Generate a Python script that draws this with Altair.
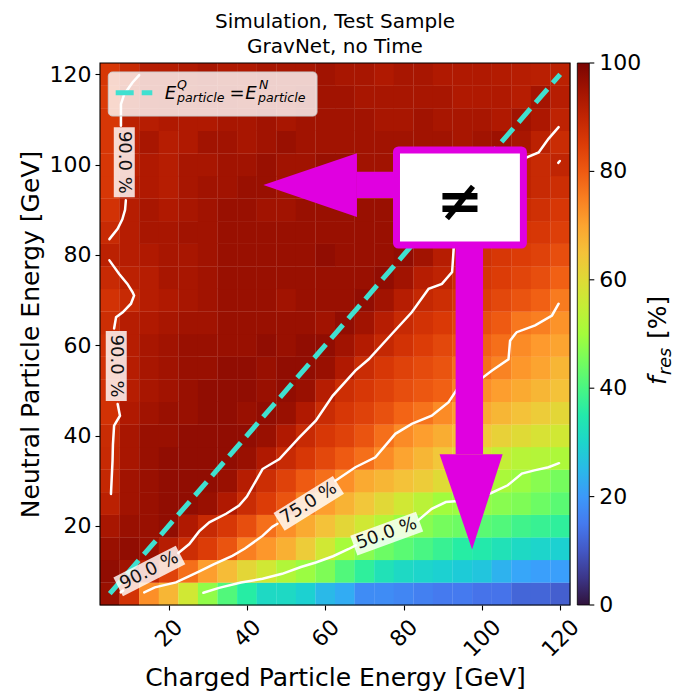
import altair as alt
import pandas as pd

# ---------------- data ----------------
charged_energy = [5, 10, 15, 20, 25, 30, 35, 40, 45, 50, 55, 60,
                  65, 70, 75, 80, 85, 90, 95, 100, 105, 110, 115, 120]
neutral_energy = [5, 10, 15, 20, 25, 30, 35, 40, 45, 50, 55, 60,
                  65, 70, 75, 80, 85, 90, 95, 100, 105, 110, 115, 120]

# f_res [%] per neutral-energy row (columns follow charged_energy)
fres_n005 = [96, 87, 73, 67, 57, 48, 41, 36, 31, 31, 29, 25, 23, 18, 18, 17, 16, 15, 15, 14, 14, 12, 12, 11]
fres_n010 = [97, 95, 90, 84, 77, 71, 66, 61, 57, 52, 49, 46, 41, 37, 33, 31, 30, 29, 28, 27, 24, 22, 21, 21]
fres_n015 = [96, 97, 96, 92, 88, 85, 81, 75, 72, 68, 63, 57, 50.5, 47, 44, 42, 40, 38, 36, 35, 33, 31, 30, 29]
fres_n020 = [94, 96, 96, 97, 93, 89, 86, 82, 77, 73, 69, 65, 61, 57, 53, 49, 47, 45, 44, 42, 41, 39, 38, 37]
fres_n025 = [91, 95, 96, 97, 97, 96, 93, 88.5, 85, 81, 75, 71, 67.5, 64, 60.5, 57, 53.5, 49.7, 49, 48, 47, 46, 44, 42]
fres_n030 = [89.5, 95, 96, 97, 97, 97, 96, 92, 88, 84, 80, 77, 73, 69, 67, 65, 63, 60, 57, 54, 51, 49, 47, 45]
fres_n035 = [89, 94, 96, 97, 97, 97, 97, 96, 93, 89, 86, 83, 80, 77, 73.5, 70, 67, 64, 61, 58, 55, 53, 52.5, 51.5]
fres_n040 = [88.5, 94, 96, 96, 97, 97, 97, 97, 96, 93, 89, 86, 84, 81, 77, 73.5, 71, 68.5, 66, 64, 62, 60, 58.5, 57]
fres_n045 = [87, 93, 95, 96, 96, 97, 97, 96, 97, 96, 93, 88.5, 86, 84, 81.5, 78.5, 76.5, 73.5, 71, 69, 67, 65, 63, 61]
fres_n050 = [87, 92, 94, 95, 96, 97, 97, 97, 96, 97, 96, 92, 88, 86, 84, 82, 80.5, 79, 74.5, 73, 71, 69, 67, 65]
fres_n055 = [87, 92, 94, 95, 96, 96, 97, 97, 96, 97, 97, 96, 93, 88.5, 86, 84, 82.5, 81, 77, 77, 74.5, 72, 70, 67]
fres_n060 = [87, 92, 94, 95, 96, 96, 96, 96, 97, 96, 97, 97, 95, 92.5, 89.5, 87, 85, 83, 81, 79, 77, 73.5, 71.5, 70]
fres_n065 = [88, 92, 93, 94, 95, 95, 96, 96, 96, 96, 96, 95, 97, 95, 92, 89, 87, 85.5, 83.5, 82, 80, 76, 75, 72.5]
fres_n070 = [87, 89, 92, 93, 94, 95, 96, 96, 96, 95, 96, 96, 96, 97, 95, 92, 89.5, 88, 86, 85, 83, 81, 79, 75.5]
fres_n075 = [89, 91, 92, 94, 94, 95, 96, 96, 96, 96, 96, 96, 96, 96, 97, 95, 92, 90.5, 88, 86.5, 85, 83.5, 82, 79]
fres_n080 = [91, 92, 93, 94, 94, 95, 96, 96, 96, 96, 96, 97, 96, 96, 96, 97, 95, 92, 88.5, 87.5, 86, 85, 84, 82]
fres_n085 = [89, 92, 94, 94, 95, 95, 96, 96, 96, 96, 96, 96, 96, 96, 96, 96, 96, 94.5, 92, 89.5, 88, 86.5, 86, 84.5]
fres_n090 = [87, 92, 94, 93, 94, 95, 96, 96, 95, 95, 96, 96, 96, 96, 96, 96, 96, 96, 95, 93, 90.5, 88.5, 87.5, 86]
fres_n095 = [86, 92, 93, 92, 94, 95, 95, 96, 96, 95, 95, 95, 96, 96, 95, 95, 96, 96, 96, 95, 93, 90.5, 89, 88]
fres_n100 = [86, 91, 93, 92, 94, 94, 95, 95, 96, 95, 95, 96, 96, 95, 95, 95, 96, 95, 96, 95.5, 94, 90.5, 89, 90.2]
fres_n105 = [86, 91, 94, 92, 93, 95, 95, 94, 95, 96, 95, 95, 95, 95, 95, 95, 95, 95, 94, 95, 95.5, 94, 91, 88.5]
fres_n110 = [86, 91, 92, 93, 93, 93, 94, 94, 95, 94, 95, 95, 95, 95, 94, 94, 95, 94, 94, 94, 93, 95, 93.5, 90.5]
fres_n115 = [85, 90.5, 92, 93, 93, 94, 94, 93, 94, 94, 95, 95, 95, 94, 94, 94, 94, 94, 93, 93, 93, 92, 94.5, 92]
fres_n120 = [86, 89, 92, 92, 93, 94, 93, 93, 94, 94, 94, 95, 94, 94, 93, 94, 94, 93, 93, 93, 92.5, 92, 91.5, 91]

fres_rows = [fres_n005, fres_n010, fres_n015, fres_n020, fres_n025, fres_n030,
             fres_n035, fres_n040, fres_n045, fres_n050, fres_n055, fres_n060,
             fres_n065, fres_n070, fres_n075, fres_n080, fres_n085, fres_n090,
             fres_n095, fres_n100, fres_n105, fres_n110, fres_n115, fres_n120]

# diagonal E^Q = E^N
diag_x = [5, 120]
diag_y = [5, 120]

# contour lines (traced), as (charged, neutral) points
c90_a1 = [(12.5, 119.8), (10.8, 118.2), (8.7, 115.6), (7.85, 113.4), (7.85, 108.6)]
c90_a2 = [(9.1, 92.1), (8.9, 90.0), (8.2, 87.9), (7.0, 85.8), (4.9, 83.5)]
c90_c1 = [(4.9, 78.8), (7.4, 75.8), (9.5, 73.6), (10.8, 71.8), (11.2, 71.0), (10.4, 69.2),
          (8.3, 67.3), (6.6, 66.2), (6.1, 63.7)]
c90_c2 = [(7.0, 47.0), (7.6, 44.4), (6.1, 42.2), (5.8, 38.0), (5.7, 34.4), (5.3, 27.1)]
c90_d0 = [(7.8, 5.3), (8.4, 5.7)]
c90_d1 = [(22.5, 14.0), (25.3, 16.0), (27.8, 18.8), (30.4, 20.8), (34.7, 22.7), (38.0, 24.5),
          (40.0, 26.5), (42.3, 30.0), (44.0, 32.6), (48.3, 34.8), (53.4, 39.6), (57.6, 43.3),
          (61.9, 48.8), (67.7, 54.4), (71.1, 56.9), (77.0, 62.5), (82.1, 67.3), (86.4, 72.5),
          (89.8, 73.6), (92.4, 76.2), (92.8, 81.4), (95.0, 86.0), (105.0, 97.0), (111.5, 101.6),
          (114.5, 102.7), (117.0, 105.7), (119.6, 108.3)]
c90_dot = [(119.5, 100.4), (119.9, 100.8)]
c75_a = [(13.8, 5.3), (16.5, 6.4), (21.9, 7.5), (25.3, 8.9), (28.0, 10.0), (31.5, 11.5),
         (36.3, 13.4), (39.5, 15.0), (44.0, 17.8), (46.5, 19.8), (47.8, 20.5)]
c75_b = [(62.6, 30.0), (67.7, 33.0), (72.8, 35.2), (77.9, 40.4), (82.1, 42.6), (87.2, 44.4),
         (91.5, 47.4), (94.0, 50.7), (99.1, 52.1), (102.6, 54.4), (106.8, 56.9), (107.2, 61.0),
         (108.5, 62.5), (108.9, 62.9), (113.6, 64.4), (117.9, 66.6), (119.6, 69.2)]
c50_a = [(28.9, 5.2), (32.9, 6.3), (38.5, 7.5), (44.0, 8.3), (49.0, 9.4), (53.8, 10.9),
         (57.6, 11.9), (62.0, 13.3), (66.0, 14.9), (67.8, 15.7)]
c50_b = [(83.8, 21.3), (87.2, 23.8), (90.8, 25.3), (94.0, 25.5), (98.0, 26.2), (102.4, 27.3),
         (106.6, 29.0), (110.2, 31.6), (113.4, 32.3), (117.0, 33.0), (119.7, 33.9)]

# contour labels
clabel_text = ["90.0 %", "90.0 %", "90.0 %", "75.0 %", "50.0 %"]
clabel_x = [8.7, 6.65, 15.1, 55.8, 75.7]
clabel_y = [100.5, 55.4, 10.05, 25.0, 18.3]
clabel_angle = [90, 90, 333, 328, 340]

colorbar_ticks = [0, 20, 40, 60, 80, 100]
colorbar_labels = ["0", "20", "40", "60", "80", "100"]
axis_ticks = [20, 40, 60, 80, 100, 120]
title_lines = ["Simulation, Test Sample", "GravNet, no Time"]

# ---------------- styles ----------------
FONT = "DejaVu Sans"
MAG = "#e000e0"
TURQ = "#40e0d0"
# matplotlib 'turbo' sampled at 15 evenly spaced stops
TURBO_STOPS = ["#30123b", "#4145ab", "#4675ed", "#39a2fc", "#1bcfd4", "#24eca6", "#61fc6c",
               "#a4fc3b", "#d1e834", "#f3c63a", "#fe9b2d", "#f36315", "#d93806", "#b11901", "#7a0402"]
TURBO_DOMAIN = [100 * i / 14 for i in range(15)]
XS = alt.Scale(domain=[2.5, 122.5], nice=False, zero=False)
YS = alt.Scale(domain=[2.5, 122.5], nice=False, zero=False)
CS = alt.Scale(domain=TURBO_DOMAIN, range=TURBO_STOPS, interpolate="rgb")

# ---------------- tables ----------------
recs = []
for yv, row in zip(neutral_energy, fres_rows):
    for xv, v in zip(charged_energy, row):
        recs.append({"x": xv - 2.5, "x2": xv + 2.56, "y": yv - 2.56, "y2": yv + 2.5, "f": v})
heat_df = pd.DataFrame(recs)

segs = {"a1": c90_a1, "a2": c90_a2, "c1": c90_c1, "c2": c90_c2, "d0": c90_d0,
        "d1": c90_d1, "dot": c90_dot, "e1": c75_a, "e2": c75_b, "f1": c50_a, "f2": c50_b}
crecs = []
for name, pts in segs.items():
    for i, (px, py) in enumerate(pts):
        crecs.append({"seg": name, "i": i, "x": px, "y": py})
cont_df = pd.DataFrame(crecs)

lab_df = pd.DataFrame({"x": clabel_x, "y": clabel_y, "t": clabel_text, "a": clabel_angle})
cb_df = pd.DataFrame({"v": colorbar_ticks, "t": colorbar_labels})


def xq(f="x"):
    return alt.X(f"{f}:Q", scale=XS)


def yq(f="y"):
    return alt.Y(f"{f}:Q", scale=YS)


one = pd.DataFrame({"k": [0]})

# ---------------- layers ----------------
heat = alt.Chart(heat_df).mark_rect().encode(
    x=alt.X("x:Q", scale=XS, axis=alt.Axis(
        values=axis_ticks, title="Charged Particle Energy [GeV]",
        titleFontSize=25, titleFontWeight="normal", titleColor="black", titleFont=FONT,
        titleX=235, titleY=80, titleBaseline="alphabetic", titleAlign="center",
        labelFontSize=22, labelFont=FONT, labelColor="black", labelAngle=315,
        labelAlign="center", labelBaseline="middle",
        labelPadding={"condition": {"test": "datum.value >= 100", "value": 28}, "value": 23},
        labelFlush=False, labelOverlap=False, labelBound=False,
        tickSize=5, tickWidth=1.1, tickColor="black", domain=False, grid=False)),
    x2="x2:Q",
    y=alt.Y("y:Q", scale=YS, axis=alt.Axis(
        values=axis_ticks, title="Neutral Particle Energy [GeV]",
        titleFontSize=25, titleFontWeight="normal", titleColor="black", titleFont=FONT,
        titleAngle=270, titleX=-62, titleY=271, titleBaseline="alphabetic", titleAlign="center",
        labelFontSize=22, labelFont=FONT, labelColor="black", labelPadding=4,
        labelFlush=False, labelOverlap=False,
        tickSize=5, tickWidth=1.1, tickColor="black", domain=False, grid=False)),
    y2="y2:Q",
    color=alt.Color("f:Q", scale=CS, legend=alt.Legend(
        type="gradient", orient="none", legendX=477.3, legendY=0, direction="vertical", title=None,
        gradientLength=542, gradientThickness=12, values=colorbar_ticks,
        labelExpr="''", labelOverlap=False, padding=0,
        gradientStrokeColor="black", gradientStrokeWidth=0.8)),
)

diag = alt.Chart(pd.DataFrame({"x": diag_x, "y": diag_y})).mark_line(
    color=TURQ, strokeWidth=5, strokeDash=[18, 8], strokeCap="butt").encode(x=xq(), y=yq())

contours = alt.Chart(cont_df).mark_line(color="white", strokeWidth=2.5, strokeCap="round").encode(
    x=xq(), y=yq(), detail="seg:N", order="i:Q")

lab_box = alt.Chart(lab_df).mark_point(
    shape="M-1,-0.3L1,-0.3L1,0.3L-1,0.3Z", size=4900, filled=True,
    color="white", opacity=0.82, strokeWidth=0).encode(
    x=xq(), y=yq(), angle=alt.Angle("a:Q", scale=None))

lab_txt = alt.Chart(lab_df).mark_text(
    font=FONT, fontSize=18, color="#111111", align="center", baseline="middle").encode(
    x=xq(), y=yq(), text="t:N", angle=alt.Angle("a:Q", scale=None))

# legend (line sample + math label)
leg_box = alt.Chart(one).mark_rect(
    fill="white", fillOpacity=0.8, stroke="#cccccc", strokeWidth=1, cornerRadius=4).encode(
    x=alt.value(8.3), x2=alt.value(217), y=alt.value(9), y2=alt.value(53))
leg_line = alt.Chart(one).mark_rule(
    color=TURQ, strokeWidth=5, strokeDash=[18, 8], strokeCap="butt").encode(
    x=alt.value(15.7), x2=alt.value(52.3), y=alt.value(29.7))

leg_parts = pd.DataFrame({
    "t": ["E", "Q", "particle", "=", "E", "N", "particle"],
    "px": [64.8, 77, 77, 129.5, 145.3, 159, 158],
    "py": [35.5, 25.5, 39, 35.5, 35.5, 25.5, 39],
    "fs": [18, 12.6, 12.6, 18, 18, 12.6, 12.6],
    "st": ["italic", "italic", "italic", "normal", "italic", "italic", "italic"],
})
leg_txt = []
for _, r in leg_parts.iterrows():
    leg_txt.append(alt.Chart(one).mark_text(
        text=r["t"], font=FONT, fontSize=float(r["fs"]), fontStyle=r["st"], color="black",
        align="left", baseline="alphabetic").encode(x=alt.value(float(r["px"])), y=alt.value(float(r["py"]))))

# annotation: arrows and "≠" box
shaft_df = pd.DataFrame({"x": [68.1, 93.3], "x2": [79.0, 100.3], "y": [92.6, 35.9], "y2": [98.4, 83.0]})
shafts = alt.Chart(shaft_df).mark_rect(color=MAG).encode(
    x=xq(), x2="x2:Q", y=yq(), y2="y2:Q")
head_left = alt.Chart(pd.DataFrame({"x": [44.2, 68.1], "y": [95.5, 102.5], "y2": [95.5, 88.4]})).mark_area(
    color=MAG, orient="vertical").encode(x=xq(), y=yq(), y2="y2:Q")
head_down = alt.Chart(pd.DataFrame({"y": [14.8, 35.9], "x": [97.5, 89.2], "x2": [97.5, 105.3]})).mark_area(
    color=MAG, orient="horizontal").encode(y=yq(), x=xq(), x2="x2:Q")
box = alt.Chart(pd.DataFrame({"x": [78.2], "x2": [110.6], "y": [82.2], "y2": [103.25]})).mark_rect(
    fill="white", stroke=MAG, strokeWidth=7, cornerRadius=2).encode(
    x=xq(), x2="x2:Q", y=yq(), y2="y2:Q")
neq = alt.Chart(pd.DataFrame({"x": [94.4], "y": [91.6], "t": ["≠"]})).mark_text(
    font=FONT, fontSize=56, fontWeight="bold", color="black", align="center", baseline="middle").encode(
    x=xq(), y=yq(), text="t:N")

frame = alt.Chart(one).mark_rect(fillOpacity=0, stroke="black", strokeWidth=1.1).encode(
    x=alt.value(0), x2=alt.value(470), y=alt.value(0), y2=alt.value(542))

cb_ticks = alt.Chart(cb_df).transform_calculate(
    y="2.5 + datum.v * 1.2").mark_rule(color="black", strokeWidth=1.1).encode(
    x=alt.value(489.3), x2=alt.value(494.3), y=yq())
cb_labels = alt.Chart(cb_df).transform_calculate(
    y="2.5 + datum.v * 1.2").mark_text(
    font=FONT, fontSize=22, color="black", align="left", baseline="middle").encode(
    x=alt.value(499.3), y=yq(), text="t:N")

cb_title = [
    alt.Chart(one).mark_text(text="f", font=FONT, fontSize=25, fontStyle="italic", color="black",
                             align="left", baseline="alphabetic", angle=270).encode(
        x=alt.value(566), y=alt.value(322)),
    alt.Chart(one).mark_text(text="res", font=FONT, fontSize=17.5, fontStyle="italic", color="black",
                             align="left", baseline="alphabetic", angle=270).encode(
        x=alt.value(570.5), y=alt.value(312)),
    alt.Chart(one).mark_text(text="[%]", font=FONT, fontSize=25, color="black",
                             align="left", baseline="alphabetic", angle=270).encode(
        x=alt.value(566), y=alt.value(276)),
]

titles = [
    alt.Chart(one).mark_text(text=title_lines[0], font=FONT, fontSize=20, color="black",
                             align="center", baseline="alphabetic").encode(
        x=alt.value(235), y=alt.value(-35)),
    alt.Chart(one).mark_text(text=title_lines[1], font=FONT, fontSize=20, color="black",
                             align="center", baseline="alphabetic").encode(
        x=alt.value(235), y=alt.value(-10)),
]

chart = alt.layer(
    heat, diag, contours, lab_box, lab_txt, leg_box, leg_line, *leg_txt,
    shafts, head_left, head_down, box, neq, frame, cb_ticks, cb_labels, *cb_title, *titles
).properties(
    width=470, height=542,
    padding={"left": 100, "top": 63, "right": 104, "bottom": 86},
    autosize=alt.AutoSizeParams(type="none"),
).configure_view(stroke=None).configure(font=FONT)

chart.save("out.html", embed_options={"renderer": "svg", "actions": False})
